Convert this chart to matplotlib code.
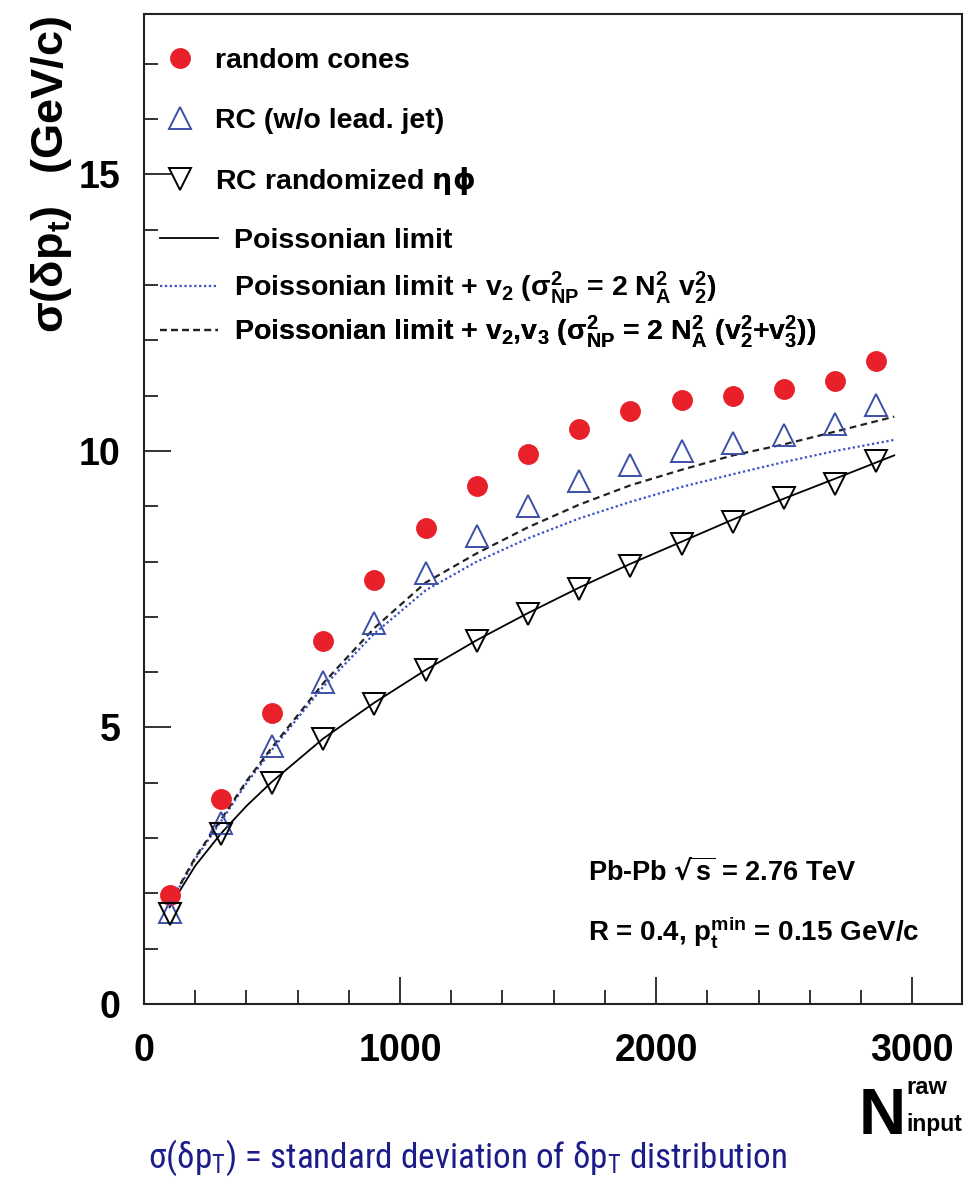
import matplotlib
matplotlib.use('Agg')
import matplotlib.pyplot as plt
from matplotlib.ticker import MultipleLocator

# global fonts (ROOT-like Helvetica look)
plt.rcParams['font.family'] = ['Liberation Sans', 'DejaVu Sans']
plt.rcParams['font.weight'] = 'bold'
plt.rcParams['axes.labelweight'] = 'bold'
plt.rcParams['mathtext.default'] = 'regular'

# data points (N_input^raw bins)
n_input = [100, 300, 500, 700, 900, 1100, 1300, 1500, 1700, 1900, 2100, 2300, 2500, 2700, 2860]
random_cones = [1.97, 3.71, 5.26, 6.56, 7.67, 8.61, 9.37, 9.95, 10.40, 10.72, 10.92, 10.99, 11.12, 11.27, 11.62]
rc_no_lead = [1.66, 3.28, 4.66, 5.83, 6.89, 7.79, 8.46, 9.00, 9.46, 9.75, 10.00, 10.14, 10.29, 10.49, 10.83]
rc_randomized = [1.63, 3.07, 4.00, 4.79, 5.42, 6.04, 6.57, 7.06, 7.51, 7.92, 8.32, 8.72, 9.15, 9.41, 9.81]

# curves
curve_n = [100, 200, 300, 400, 500, 700, 900, 1100, 1300, 1500, 1700, 1900, 2100, 2300, 2500, 2700, 2930]
poisson = [1.75, 2.50, 3.08, 3.58, 4.02, 4.80, 5.45, 6.04, 6.58, 7.07, 7.53, 7.96, 8.36, 8.76, 9.14, 9.50, 9.92]
poisson_v2 = [1.80, 2.62, 3.30, 3.99, 4.60, 5.74, 6.70, 7.48, 8.00, 8.42, 8.78, 9.08, 9.35, 9.58, 9.80, 10.00, 10.20]
poisson_v2v3 = [1.82, 2.65, 3.33, 4.03, 4.64, 5.80, 6.80, 7.62, 8.15, 8.62, 9.03, 9.38, 9.66, 9.92, 10.12, 10.35, 10.62]

red = '#e8202a'
blue = '#3c50a8'

fig = plt.figure(figsize=(9.77, 11.98), dpi=100)
ax = fig.add_axes([0.1474, 0.1619, 0.8373, 0.8264])

# curves
l_pois, = ax.plot(curve_n, poisson, color='black', lw=1.3, ls='-')
l_v2, = ax.plot(curve_n, poisson_v2, color='#3a4fc8', lw=1.6, ls=(0, (1, 1.2)))
l_v2v3, = ax.plot(curve_n, poisson_v2v3, color='#222222', lw=1.6, ls=(0, (3, 2)))

# markers
m_rc, = ax.plot(n_input, random_cones, 'o', color=red, ms=14, mec=red, ls='none')
m_nl, = ax.plot(n_input, rc_no_lead, '^', mfc='none', mec=blue, mew=1.4, ms=15.5, ls='none')
m_rand, = ax.plot(n_input, rc_randomized, 'v', mfc='none', mec='black', mew=1.4, ms=15.5, ls='none')

ax.set_xlim(0, 3195)
ax.set_ylim(0, 17.9)

ax.xaxis.set_major_locator(MultipleLocator(1000))
ax.xaxis.set_minor_locator(MultipleLocator(200))
ax.yaxis.set_major_locator(MultipleLocator(5))
ax.yaxis.set_minor_locator(MultipleLocator(1))
ax.tick_params(which='both', direction='in', top=False, right=False, width=1.4, color='#333333')
ax.tick_params(which='major', length=19.5, labelsize=27)
ax.tick_params(which='minor', length=10)
ax.tick_params(axis='x', pad=21)
ax.tick_params(axis='y', pad=17)
for s in ax.spines.values():
    s.set_linewidth(1.5)
    s.set_color('#222222')

ax.set_ylabel(r'$\sigma(\delta p_t)\ \ $(GeV/c)', fontsize=32.5, fontweight='bold')
ax.yaxis.set_label_coords(-0.086, 0.838)

# legend, one entry per row
def add_entry(handle, label, xf, yf, hl, pad):
    leg = ax.legend([handle], [label], loc='center left', bbox_to_anchor=(xf, yf),
                    bbox_transform=ax.transAxes, frameon=False, handlelength=hl,
                    handletextpad=pad, borderpad=0, borderaxespad=0, numpoints=1,
                    prop={'weight': 'bold', 'size': 20.5})
    ax.add_artist(leg)

add_entry(m_rc, 'random cones', 0.0269, (1004 - 61) / 990, 1.0, 0.72)
add_entry(m_nl, 'RC (w/o lead. jet)', 0.0269, (1004 - 121) / 990, 1.0, 0.72)
add_entry(m_rand, r'RC randomized $\mathrm{\eta\phi}$', 0.0269, (1004 - 181) / 990, 1.0, 0.72)
add_entry(l_pois, 'Poissonian limit', 0.0196, (1004 - 241) / 990, 2.05, 0.55)
add_entry(l_v2, r'Poissonian limit + v$_2$ ($\sigma^2_{NP}$ = 2 N$^2_A$ v$^2_2$)',
          0.0196, (1004 - 288) / 990, 2.05, 0.55)
add_entry(l_v2v3, r'Poissonian limit + v$_2$,v$_3$ ($\sigma^2_{NP}$ = 2 N$^2_A$ (v$^2_2$+v$^2_3$))',
          0.0196, (1004 - 332) / 990, 2.05, 0.55)

# system annotation
ax.text((588 - 144) / 818, (1004 - 872) / 990, r'Pb-Pb $\sqrt{s}$ = 2.76 TeV',
        transform=ax.transAxes, fontsize=19.5, va='center', ha='left')
ax.text((588 - 144) / 818, (1004 - 932) / 990, r'R = 0.4, p$^{min}_t$ = 0.15 GeV/c',
        transform=ax.transAxes, fontsize=20, va='center', ha='left')

# x axis title: N with raw / input scripts
fig.text(906 / 977, 1 - 1117 / 1198, 'N', ha='right', va='center', fontsize=47)
fig.text(906 / 977, 1 - 1088 / 1198, 'raw', ha='left', va='center', fontsize=17)
fig.text(906 / 977, 1 - 1124 / 1198, 'input', ha='left', va='center', fontsize=16.5)

# caption below
fig.text(148 / 977, 1 - 1158 / 1198,
         r'$\sigma(\delta p_T)$ = standard deviation of $\delta p_T$ distribution',
         family=['DejaVu Sans Condensed', 'Roboto Condensed', 'DejaVu Sans'],
         fontstretch='condensed', fontweight='normal',
         color='#1c1c8a', fontsize=25.3, va='center', ha='left')

fig.savefig('out.png', dpi=100)
